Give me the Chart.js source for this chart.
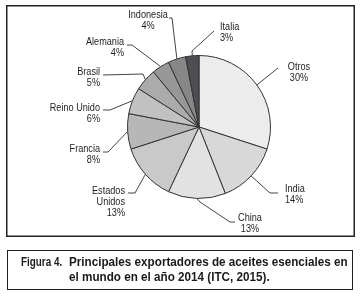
<!DOCTYPE html>
<html>
<head>
<meta charset="utf-8">
<script src="https://cdn.jsdelivr.net/npm/chart.js@4"></script>
<style>
  body { margin: 0; background: #fff; }
  #wrap { position: relative; width: 362px; height: 298px; }
  #pieChart { position: absolute; left: 0; top: 0; }
  #capbox {
    position: absolute; left: 7px; top: 250px; width: 344px; height: 38px;
    border: 1.5px solid #222;
  }
  .cap {
    position: absolute; white-space: nowrap; transform-origin: 0 50%;
    transform: scaleX(0.935);
    font-family: "Liberation Sans", Arial, sans-serif;
    font-weight: bold; font-size: 12.5px; line-height: 15px; color: #1a1a1a;
  }
  .cap.num { transform: scaleX(0.79); }
</style>
</head>
<body>
<div id="wrap">
  <canvas id="pieChart" width="362" height="298"></canvas>
  <div id="capbox"></div>
  <div class="cap num" style="left:21px; top:255px;">Figura 4.</div>
  <div class="cap" style="left:69px; top:255px;">Principales exportadores de aceites esenciales en</div>
  <div class="cap" style="left:69px; top:270px;">el mundo en el año 2014 (ITC, 2015).</div>
</div>
<script>
document.addEventListener('DOMContentLoaded', function () {
    // shares of world essential oil exports, 2014 (%)
    var countries = ['Otros', 'India', 'China', 'Estados Unidos', 'Francia', 'Reino Unido', 'Brasil', 'Alemania', 'Indonesia', 'Italia'];
    var shares = [30, 14, 13, 13, 8, 6, 5, 4, 4, 3];
    var shades = ['#ececec', '#d8d8d8', '#e2e2e2', '#c9c9c9', '#b7b7b7', '#c1c1c1', '#ababab', '#979797', '#878787', '#4d4d52'];

    // where each label and its leader line sit
    var labelLayout = [
        { x: 299, y: 67, align: 'center', path: [[278, 68]] },
        { x: 285, y: 189, align: 'left', path: [[270, 193], [278, 193]] },
        { x: 250, y: 218, align: 'center', path: [[200, 202], [230, 222], [235, 222]] },
        { x: 125, y: 191, align: 'right', split: true, path: [[135, 193], [128, 193]] },
        { x: 100, y: 149, align: 'right', path: [[108, 152], [103, 152]] },
        { x: 100, y: 108, align: 'right', path: [[110, 110], [103, 110]] },
        { x: 100, y: 72, align: 'right', path: [[143, 74], [103, 75]] },
        { x: 124, y: 42, align: 'right', path: [[132, 45], [127, 45]] },
        { x: 148, y: 15, align: 'center', path: [[172, 18], [169, 18]] },
        { x: 220, y: 27, align: 'left', path: [[192, 51], [214, 31]] }
    ];

    var labelFont = '11px "Liberation Sans", Arial, sans-serif';
    var narrow = 0.83;

    var labelsPlugin = {
        id: 'pieLabels',
        afterDraw: function (chart) {
            var ctx = chart.ctx;
            var arcs = chart.getDatasetMeta(0).data;
            ctx.save();
            // frame round the chart
            ctx.strokeStyle = '#222';
            ctx.lineWidth = 1.5;
            ctx.strokeRect(6.75, 5.75, 347.5, 230.5);

            ctx.beginPath();
            ctx.rect(8, 7, 345, 225);
            ctx.clip();

            ctx.strokeStyle = '#444';
            ctx.lineWidth = 1;
            arcs.forEach(function (arc, i) {
                var mid = (arc.startAngle + arc.endAngle) / 2;
                var r = arc.outerRadius;
                var lay = labelLayout[i];
                ctx.beginPath();
                ctx.moveTo(arc.x + Math.cos(mid) * r, arc.y + Math.sin(mid) * r);
                lay.path.forEach(function (p) { ctx.lineTo(p[0], p[1]); });
                ctx.stroke();

                var lines = lay.split ? countries[i].split(' ') : [countries[i]];
                lines.push(shares[i] + '%');
                ctx.fillStyle = '#1e1e1e';
                ctx.font = labelFont;
                ctx.textAlign = lay.align;
                ctx.textBaseline = 'middle';
                lines.forEach(function (t, k) {
                    ctx.save();
                    ctx.translate(lay.x, lay.y + k * 11);
                    ctx.scale(narrow, 1);
                    ctx.fillText(t, 0, 0);
                    ctx.restore();
                });
            });
            ctx.restore();
        }
    };

    new Chart(document.getElementById('pieChart'), {
        type: 'pie',
        data: {
            labels: countries,
            datasets: [{
                data: shares,
                backgroundColor: shades,
                borderColor: '#333',
                borderWidth: 1
            }]
        },
        options: {
            responsive: false,
            animation: false,
            layout: { padding: { left: 127, right: 91, top: 55, bottom: 99 } },
            plugins: {
                legend: { display: false },
                tooltip: { enabled: false }
            }
        },
        plugins: [labelsPlugin]
    });
});
</script>
</body>
</html>
